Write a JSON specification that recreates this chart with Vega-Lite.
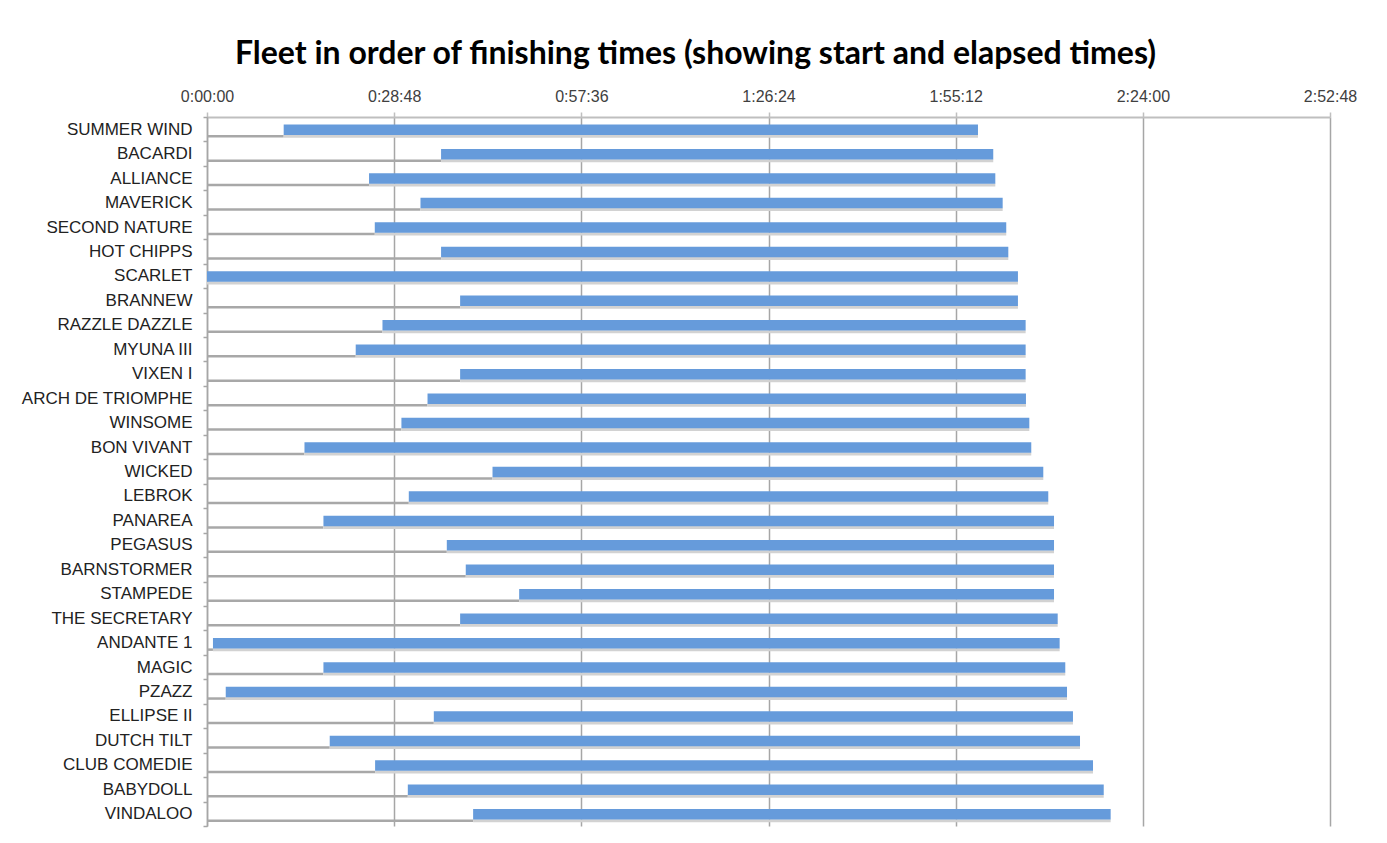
{
  "$schema": "https://vega.github.io/schema/vega-lite/v6.json",
  "width": 1123,
  "height": 709,
  "autosize": {"type": "none"},
  "padding": {"left": 207, "top": 117, "right": 57, "bottom": 17},
  "background": "white",
  "config": {"view": {"stroke": null}},
  "title": {
    "text": "Fleet in order of finishing times (showing start and elapsed times)",
    "font": "Lato",
    "fontSize": 32,
    "fontWeight": "bold",
    "color": "#000000",
    "anchor": "middle",
    "dx": -73,
    "offset": 17
  },
  "data": {
    "values": [
      {"boat": "SUMMER WIND", "start": 708, "finish": 7118},
      {"boat": "BACARDI", "start": 2161, "finish": 7259},
      {"boat": "ALLIANCE", "start": 1496, "finish": 7278},
      {"boat": "MAVERICK", "start": 1971, "finish": 7346},
      {"boat": "SECOND NATURE", "start": 1549, "finish": 7379},
      {"boat": "HOT CHIPPS", "start": 2161, "finish": 7398},
      {"boat": "SCARLET", "start": 0, "finish": 7487},
      {"boat": "BRANNEW", "start": 2337, "finish": 7487},
      {"boat": "RAZZLE DAZZLE", "start": 1620, "finish": 7558},
      {"boat": "MYUNA III", "start": 1373, "finish": 7558},
      {"boat": "VIXEN I", "start": 2337, "finish": 7558},
      {"boat": "ARCH DE TRIOMPHE", "start": 2036, "finish": 7561},
      {"boat": "WINSOME", "start": 1795, "finish": 7592},
      {"boat": "BON VIVANT", "start": 900, "finish": 7610},
      {"boat": "WICKED", "start": 2636, "finish": 7721},
      {"boat": "LEBROK", "start": 1863, "finish": 7767},
      {"boat": "PANAREA", "start": 1075, "finish": 7820},
      {"boat": "PEGASUS", "start": 2214, "finish": 7820},
      {"boat": "BARNSTORMER", "start": 2389, "finish": 7820},
      {"boat": "STAMPEDE", "start": 2882, "finish": 7820},
      {"boat": "THE SECRETARY", "start": 2337, "finish": 7854},
      {"boat": "ANDANTE 1", "start": 55, "finish": 7872},
      {"boat": "MAGIC", "start": 1075, "finish": 7924},
      {"boat": "PZAZZ", "start": 173, "finish": 7940},
      {"boat": "ELLIPSE II", "start": 2094, "finish": 7995},
      {"boat": "DUTCH TILT", "start": 1133, "finish": 8060},
      {"boat": "CLUB COMEDIE", "start": 1552, "finish": 8180},
      {"boat": "BABYDOLL", "start": 1854, "finish": 8279},
      {"boat": "VINDALOO", "start": 2457, "finish": 8343}
    ]
  },
  "encoding": {
    "y": {
      "field": "boat",
      "type": "nominal",
      "sort": null,
      "scale": {"paddingInner": 0, "paddingOuter": 0},
      "axis": {
        "title": null,
        "tickBand": "extent",
        "tickSize": 4,
        "tickColor": "#a6a6a6",
        "tickWidth": 1.5,
        "domainColor": "#a6a6a6",
        "domainWidth": 1.5,
        "labelFont": "Liberation Sans",
        "labelFontSize": 17,
        "labelColor": "#222222",
        "labelPadding": 11
      }
    },
    "x": {
      "field": "start",
      "type": "quantitative",
      "scale": {"domain": [0, 10368], "nice": false, "zero": true},
      "axis": {
        "orient": "top",
        "title": null,
        "values": [0, 1728, 3456, 5184, 6912, 8640, 10368],
        "labelExpr": "utcFormat(datum.value * 1000, '%-H:%M:%S')",
        "labelFlush": false,
        "grid": true,
        "gridColor": "#a6a6a6",
        "gridWidth": 1.5,
        "domainColor": "#bfbfbf",
        "domainWidth": 2,
        "tickColor": "#bfbfbf",
        "tickSize": 5,
        "tickWidth": 1.5,
        "labelFont": "Liberation Sans",
        "labelFontSize": 16,
        "labelColor": "#404040",
        "labelPadding": 8
      }
    }
  },
  "layer": [
    {
      "mark": {"type": "bar", "color": "#a8a8a8", "size": 2.5, "yOffset": 7},
      "encoding": {}
    },
    {
      "mark": {"type": "bar", "color": "#d2d2d2", "size": 3, "yOffset": 7},
      "encoding": {"x2": {"field": "finish"}}
    },
    {
      "mark": {"type": "bar", "color": "#669bdb", "size": 10.5, "yOffset": 0.5},
      "encoding": {"x2": {"field": "finish"}}
    }
  ]
}
